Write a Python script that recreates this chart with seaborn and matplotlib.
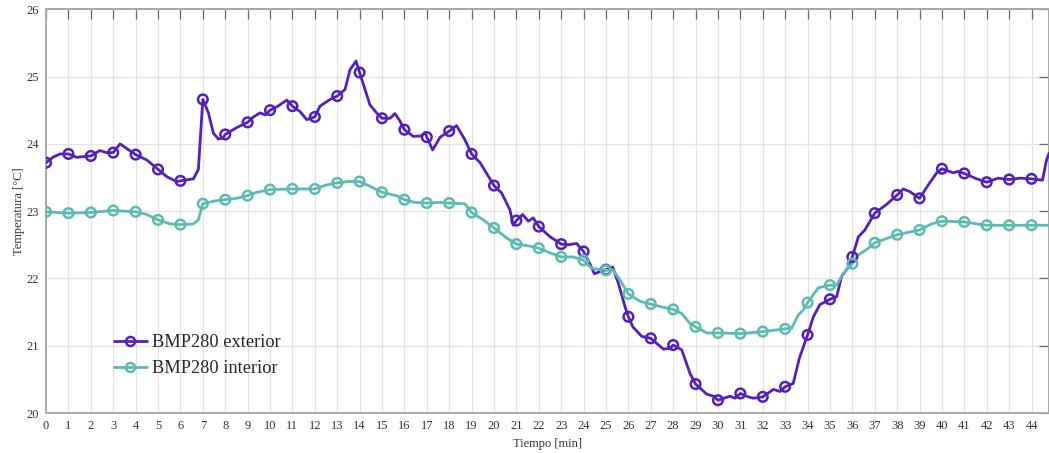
import numpy as np
import pandas as pd
import matplotlib
matplotlib.use("Agg")
import matplotlib.pyplot as plt
from matplotlib.lines import Line2D
import seaborn as sns

# --- BMP280 exterior: time [min] and temperature [°C] ---
t_ext = [0, 0.3, 0.62, 1, 1.37, 2, 2.4, 2.7, 3, 3.3, 4, 4.5, 5, 5.4, 5.83, 6,
         6.58, 6.8, 7, 7.25, 7.47, 7.7, 7.9, 8, 8.5, 9, 9.26, 9.55, 9.8, 10, 10.3,
         10.75, 11, 11.34, 11.64, 12, 12.23, 12.68, 13, 13.35, 13.57, 13.84, 14,
         14.24, 14.46, 14.76, 15, 15.36, 15.58, 15.8, 16, 16.4, 16.77, 16.92, 17,
         17.26, 17.6, 18, 18.33, 18.7, 19, 19.38, 20, 20.34, 20.71, 20.86, 21,
         21.28, 21.53, 21.75, 22, 22.5, 23, 23.32, 23.69, 24, 24.26, 24.48, 24.73,
         25, 25.3, 25.55, 25.85, 26, 26.2, 26.59, 27, 27.56, 27.86, 28, 28.38,
         28.75, 29, 29.5, 29.8, 30, 30.54, 30.76, 31, 31.35, 31.58, 32, 32.47,
         32.77, 33, 33.36, 33.63, 34, 34.26, 34.55, 35, 35.3, 35.52, 35.89, 36,
         36.27, 36.56, 37, 37.53, 38, 38.27, 38.57, 39, 39.39, 39.77, 40, 40.5,
         40.72, 41, 41.55, 42, 42.51, 43, 43.48, 44, 44.49, 44.67, 44.78]
temp_ext = [23.72, 23.80, 23.85, 23.85, 23.80, 23.82, 23.90, 23.87, 23.87, 24.00,
            23.84, 23.76, 23.62, 23.51, 23.44, 23.45, 23.48, 23.62, 24.66, 24.46,
            24.16, 24.07, 24.09, 24.14, 24.24, 24.32, 24.40, 24.46, 24.43, 24.50,
            24.55, 24.65, 24.56, 24.48, 24.36, 24.40, 24.56, 24.66, 24.71, 24.81,
            25.10, 25.23, 25.06, 24.81, 24.58, 24.46, 24.38, 24.38, 24.45, 24.34,
            24.21, 24.11, 24.12, 24.17, 24.10, 23.91, 24.10, 24.19, 24.27, 24.06,
            23.85, 23.72, 23.38, 23.27, 23.02, 22.79, 22.86, 22.95, 22.85, 22.90,
            22.77, 22.62, 22.51, 22.50, 22.52, 22.40, 22.23, 22.07, 22.10, 22.13,
            22.17, 21.93, 21.58, 21.43, 21.28, 21.14, 21.11, 20.95, 20.96, 21.01,
            20.94, 20.59, 20.43, 20.28, 20.25, 20.19, 20.25, 20.22, 20.29, 20.24,
            20.22, 20.24, 20.35, 20.32, 20.39, 20.44, 20.81, 21.16, 21.43, 21.61,
            21.69, 21.73, 22.03, 22.20, 22.32, 22.62, 22.72, 22.97, 23.10, 23.24,
            23.33, 23.29, 23.19, 23.39, 23.57, 23.63, 23.57, 23.59, 23.56, 23.48,
            23.43, 23.49, 23.47, 23.49, 23.48, 23.46, 23.76, 23.86]

# --- BMP280 interior: time [min] and temperature [°C] ---
t_int = [0, 1, 2, 3, 4, 4.5, 5, 5.54, 6, 6.58, 6.8, 6.98, 7, 7.5, 8, 8.5, 9, 9.4,
         10, 11, 12, 12.53, 13, 13.5, 14, 14.46, 15, 15.65, 16, 16.47, 17, 17.5,
         18, 18.7, 19, 19.52, 20, 20.57, 21, 21.6, 22, 22.5, 23, 23.54, 24, 24.36,
         24.73, 25, 25.3, 25.62, 26, 26.52, 27, 27.56, 28, 28.38, 28.75, 29, 29.5,
         30, 31, 31.4, 32, 33, 33.29, 33.59, 33.81, 34, 34.48, 35, 35.3, 35.6, 36,
         36.26, 36.64, 37, 38, 39, 39.54, 40, 41, 41.55, 42, 43, 44, 44.78]
temp_int = [22.99, 22.97, 22.98, 23.01, 22.99, 22.95, 22.87, 22.81, 22.80, 22.81,
            22.87, 23.09, 23.11, 23.15, 23.17, 23.19, 23.23, 23.28, 23.32, 23.33,
            23.33, 23.39, 23.42, 23.44, 23.44, 23.37, 23.28, 23.23, 23.17, 23.13,
            23.12, 23.13, 23.12, 23.11, 22.98, 22.87, 22.75, 22.60, 22.51, 22.48,
            22.45, 22.38, 22.32, 22.32, 22.27, 22.15, 22.13, 22.12, 22.13, 21.98,
            21.77, 21.66, 21.62, 21.57, 21.54, 21.48, 21.33, 21.28, 21.19, 21.19,
            21.18, 21.19, 21.21, 21.25, 21.26, 21.46, 21.53, 21.64, 21.86, 21.90,
            21.90, 22.08, 22.22, 22.35, 22.43, 22.53, 22.65, 22.72, 22.81, 22.85,
            22.84, 22.81, 22.79, 22.79, 22.79, 22.79]

labels = ["BMP280 exterior", "BMP280 interior"]
colors = ["#5520B8", "#5CBAB2"]
x_ticks = list(range(0, 45))
y_ticks = list(range(20, 27))

frames = []
for lab, t, v in [(labels[0], t_ext, temp_ext), (labels[1], t_int, temp_int)]:
    frames.append(pd.DataFrame({"Tiempo": t, "Temp": v, "Sensor": lab}))
df = pd.concat(frames, ignore_index=True)
# circle markers once per minute
marks = df[np.isclose(df["Tiempo"], np.round(df["Tiempo"]))]

sns.set_style("white")
plt.rcParams["font.family"] = ["Liberation Serif", "DejaVu Serif"]

fig = plt.figure(figsize=(10.49, 4.53), dpi=100)
ax = fig.add_axes([0.0439, 0.0883, 0.9561, 0.8912])

palette = dict(zip(labels, colors))
sns.lineplot(data=df, x="Tiempo", y="Temp", hue="Sensor", palette=palette,
             estimator=None, sort=False, linewidth=2.0, legend=False, ax=ax,
             zorder=3)
for lab in labels:
    sub = marks[marks["Sensor"] == lab]
    ax.scatter(sub["Tiempo"], sub["Temp"], s=48, facecolors="none",
               edgecolors=palette[lab], linewidths=1.8, zorder=4)

ax.set_xlim(0, 44.78)
ax.set_ylim(20, 26)
ax.set_xticks(x_ticks)
ax.set_yticks(y_ticks)
ax.grid(True, color="#e3e3e3", linewidth=0.9)
ax.set_axisbelow(True)
ax.tick_params(direction="in", length=7, width=0.9, color="#6a6a6a",
               top=True, right=True, labelsize=9, labelcolor="#333333", pad=5)
for sp in ax.spines.values():
    sp.set_color("#a8a8a8")
    sp.set_linewidth(1.4)

ax.set_xlabel("Tiempo [min]", fontsize=9, color="#333333", labelpad=4)
ax.set_ylabel("Temperatura [°C]", fontsize=9, color="#333333", labelpad=1)

handles = [Line2D([0], [0], color=c, linewidth=2.0, marker="o", markersize=6.5,
                  markerfacecolor="none", markeredgewidth=1.8) for c in colors]
ax.legend(handles, labels, loc="lower left", bbox_to_anchor=(0.051, 0.048),
          frameon=False, fontsize=13.2, handlelength=1.8, handletextpad=0.3,
          labelspacing=0.5)

fig.savefig("out.png", dpi=100)
